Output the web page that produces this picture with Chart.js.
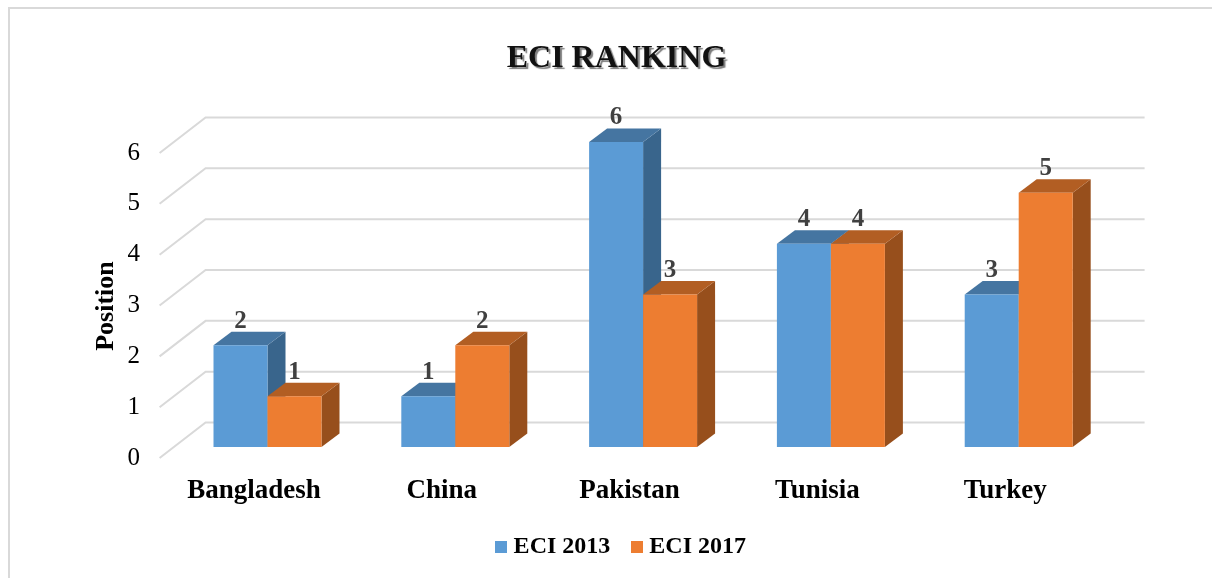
<!DOCTYPE html>
<html>
<head>
<meta charset="utf-8">
<title>ECI Ranking</title>
<script src="https://cdn.jsdelivr.net/npm/chart.js@4"></script>
<style>
    html, body { margin: 0; padding: 0; background: #fff; overflow: hidden; }
    canvas { display: block; }
    #frame { position: absolute; left: 8px; top: 7px; right: 0; bottom: 0; border-left: 2px solid #d9d9d9; border-top: 2px solid #d9d9d9; }
</style>
</head>
<body>
<div id="frame"></div>
<canvas id="rankChart" width="1212" height="578" style="position:relative"></canvas>
<script>
const categories = ['Bangladesh', 'China', 'Pakistan', 'Tunisia', 'Turkey'];
const eci2013 = [2, 1, 6, 4, 3];
const eci2017 = [1, 2, 3, 4, 5];
const yTicks = [0, 1, 2, 3, 4, 5, 6];

const SERIF = '"Liberation Serif", "Times New Roman", serif';

// Small square for the legend, the legend's own box leaves too wide a gap before the text
function swatch(color) {
    const c = document.createElement('canvas');
    c.width = 12;
    c.height = 12;
    const g = c.getContext('2d');
    g.fillStyle = color;
    g.fillRect(0, 0, 12, 12);
    return c;
}

const colors = [
    { front: '#5b9bd5', top: '#4575a1', side: '#39658c' },
    { front: '#ed7d31', top: '#b25e23', side: '#974f1c' }
];

// Top and side faces of one series
function drawFaces(ctx, meta, shade) {
    const dx = 18, dy = 13.5;
    meta.data.forEach(function(bar) {
        const p = bar.getProps(['x', 'y', 'base', 'width'], true);
        const l = p.x - p.width / 2;
        const r = p.x + p.width / 2;
        ctx.fillStyle = shade.side;
        ctx.beginPath();
        ctx.moveTo(r, p.y);
        ctx.lineTo(r + dx, p.y - dy);
        ctx.lineTo(r + dx, p.base - dy);
        ctx.lineTo(r, p.base);
        ctx.closePath();
        ctx.fill();
        ctx.fillStyle = shade.top;
        ctx.beginPath();
        ctx.moveTo(l, p.y);
        ctx.lineTo(l + dx, p.y - dy);
        ctx.lineTo(r + dx, p.y - dy);
        ctx.lineTo(r, p.y);
        ctx.closePath();
        ctx.fill();
    });
}

const box3dPlugin = {
    id: 'box3d',
    beforeDatasetsDraw(chart) {
        const { ctx, chartArea, scales } = chart;

        // Walls and floor of the fake 3D box
        ctx.save();
        ctx.strokeStyle = '#d9d9d9';
        ctx.lineWidth = 2;
        yTicks.forEach(function(v) {
            const y = scales.y.getPixelForValue(v);
            ctx.beginPath();
            ctx.moveTo(chartArea.left - 14, y + 11);
            ctx.lineTo(chartArea.left + 32, y - 24.5);
            ctx.lineTo(chartArea.right + 32, y - 24.5);
            ctx.stroke();
        });
        ctx.restore();

        // Series go left to right so the later one covers the earlier one's side
        chart.data.datasets.forEach(function(ds, i) {
            const meta = chart.getDatasetMeta(i);
            drawFaces(ctx, meta, colors[i]);
            meta.controller.draw();
        });
    },
    beforeDatasetDraw() {
        // Already drawn above, the library would paint them in reverse order
        return false;
    },
    afterDatasetsDraw(chart) {
        const { ctx } = chart;
        ctx.save();
        ctx.font = 'bold 25px ' + SERIF;
        ctx.fillStyle = '#404040';
        ctx.textAlign = 'center';
        ctx.textBaseline = 'middle';
        chart.data.datasets.forEach(function(ds, i) {
            chart.getDatasetMeta(i).data.forEach(function(bar, j) {
                ctx.fillText(String(ds.data[j]), bar.x, bar.y - 24);
            });
        });
        ctx.restore();

        // Axis name sits lower than the scale's own title would
        ctx.save();
        ctx.translate(106, 306);
        ctx.rotate(-Math.PI / 2);
        ctx.font = 'bold 26px ' + SERIF;
        ctx.fillStyle = '#000';
        ctx.textAlign = 'center';
        ctx.textBaseline = 'middle';
        ctx.fillText('Position', 0, 0);
        ctx.restore();
    }
};

// Title and legend are not centred on the canvas in the original
function shiftBox(chart, box, dx, dy, shadow) {
    if (!box || box._shifted) return;
    box._shifted = true;
    const draw = box.draw;
    box.draw = function() {
        const ctx = chart.ctx;
        ctx.save();
        ctx.translate(dx, dy);
        if (shadow) {
            ctx.shadowColor = 'rgba(110,110,110,0.9)';
            ctx.shadowOffsetX = 2;
            ctx.shadowOffsetY = 2;
            ctx.shadowBlur = 1;
        }
        draw.call(box);
        ctx.restore();
    };
}

const boxShiftPlugin = {
    id: 'boxShift',
    afterLayout(chart) {
        shiftBox(chart, chart.titleBlock, 10.2, 2, true);
        shiftBox(chart, chart.legend, 17, 1, false);
    }
};

const rankCtx = document.getElementById('rankChart').getContext('2d');
const rankChart = new Chart(rankCtx, {
    type: 'bar',
    data: {
        labels: categories,
        datasets: [
            {
                label: 'ECI 2013',
                data: eci2013,
                backgroundColor: colors[0].front
            },
            {
                label: 'ECI 2017',
                data: eci2017,
                backgroundColor: colors[1].front
            }
        ]
    },
    plugins: [box3dPlugin, boxShiftPlugin],
    options: {
        responsive: false,
        animation: false,
        devicePixelRatio: 1,
        categoryPercentage: 0.575,
        barPercentage: 1,
        layout: {
            padding: { left: 100, right: 99.4, top: 0, bottom: 10 }
        },
        plugins: {
            title: {
                display: true,
                text: 'ECI RANKING',
                color: '#111',
                font: { family: SERIF, size: 32, weight: 'bold', lineHeight: 1.2 },
                padding: { top: 38, bottom: 65.6 }
            },
            legend: {
                position: 'bottom',
                labels: {
                    usePointStyle: true,
                    pointStyleWidth: 1,
                    boxHeight: 12,
                    padding: 26,
                    color: '#000',
                    font: { family: SERIF, size: 24, weight: 'bold' },
                    generateLabels: function(chart) {
                        return chart.data.datasets.map(function(ds, i) {
                            return {
                                text: ds.label,
                                fontColor: '#000',
                                fillStyle: ds.backgroundColor,
                                strokeStyle: ds.backgroundColor,
                                lineWidth: 0,
                                pointStyle: swatch(ds.backgroundColor),
                                datasetIndex: i
                            };
                        });
                    }
                }
            },
            tooltip: { enabled: false }
        },
        scales: {
            x: {
                grid: { display: false, drawTicks: false },
                border: { display: false },
                afterFit: function(scale) { scale.height = 61; },
                ticks: {
                    color: '#000',
                    padding: 28,
                    labelOffset: -13.5,
                    maxRotation: 0,
                    autoSkip: false,
                    font: { family: SERIF, size: 27, weight: 'bold' }
                }
            },
            y: {
                min: 0,
                max: 6,
                grid: { display: false, drawTicks: false },
                border: { display: false },
                afterFit: function(scale) { scale.width = 73.6; },
                afterBuildTicks: function(scale) {
                    scale.ticks = yTicks.map(function(v) { return { value: v }; });
                },
                ticks: {
                    color: '#000',
                    padding: 33.6,
                    labelOffset: 11,
                    font: { family: SERIF, size: 25 }
                }
            }
        }
    }
});
</script>
</body>
</html>
